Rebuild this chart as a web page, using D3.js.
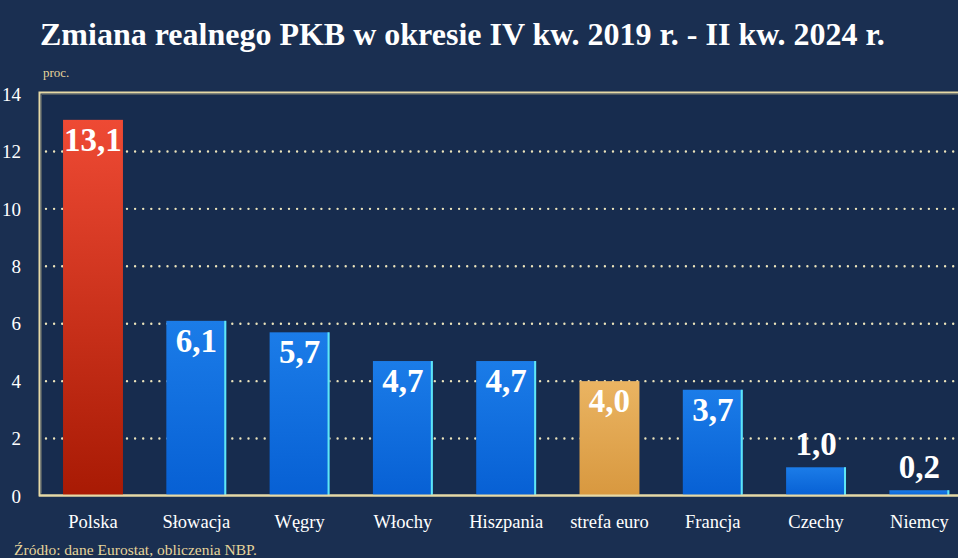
<!DOCTYPE html>
<html><head><meta charset="utf-8">
<script src="https://cdn.jsdelivr.net/npm/d3@7"></script>
<style>
html,body{margin:0;padding:0;background:#1a2f51;overflow:hidden}
svg{display:block}
</style></head>
<body>
<script>
const categories = ["Polska","Słowacja","Węgry","Włochy","Hiszpania","strefa euro","Francja","Czechy","Niemcy"];
const values = [13.1, 6.1, 5.7, 4.7, 4.7, 4.0, 3.7, 1.0, 0.2];
const valueLabels = ["13,1","6,1","5,7","4,7","4,7","4,0","3,7","1,0","0,2"];
const kinds = ["pl","blue","blue","blue","blue","euro","blue","blue","blue"];
const yTicks = [0,2,4,6,8,10,12,14];
const title = "Zmiana realnego PKB w okresie IV kw. 2019 r. - II kw. 2024 r.";
const unit = "proc.";
const source = "Źródło: dane Eurostat, obliczenia NBP.";

const W = 958, H = 558;
const serif = "'Liberation Serif', 'DejaVu Serif', serif";
const svg = d3.select("body").append("svg").attr("width", W).attr("height", H);

const defs = svg.append("defs");
function grad(id, top, bottom){
  const g = defs.append("linearGradient").attr("id", id).attr("x1",0).attr("y1",0).attr("x2",0).attr("y2",1);
  g.append("stop").attr("offset","0%").attr("stop-color", top);
  g.append("stop").attr("offset","100%").attr("stop-color", bottom);
}
grad("g-pl", "#ee4a34", "#a81a04");
grad("g-blue", "#1b7ce8", "#0760d4");
grad("g-euro", "#eab462", "#d8983f");

svg.append("rect").attr("width", W).attr("height", H).attr("fill", "#1a2f51");

const y = d3.scaleLinear().domain([0, 14]).range([496, 94]);
const x = d3.scaleBand().domain(categories).range([41.35, 971]).paddingInner(0.42).paddingOuter(0.21);

// plot area slightly darker
svg.append("rect").attr("x", 40).attr("y", 92).attr("width", W - 40).attr("height", 404).attr("fill", "#172c4e");

// gridlines (dotted)
svg.append("g").selectAll("line").data(yTicks.filter(t => t > 0 && t < 14)).join("line")
  .attr("x1", 46).attr("x2", W).attr("y1", d => y(d)).attr("y2", d => y(d))
  .attr("stroke", "#ece4bc").attr("stroke-width", 2.4)
  .attr("stroke-dasharray", "0 8.1").attr("stroke-linecap", "round");

// frame
svg.append("path").attr("d", `M${W},92.5 H39.5 V495.5 H${W}`)
  .attr("fill", "none").attr("stroke", "#e6d9a6").attr("stroke-width", 2);
svg.append("path").attr("d", `M${W},94.5 H41.5 V493.5`)
  .attr("fill", "none").attr("stroke", "#8a8a78").attr("stroke-width", 0.8).attr("opacity", 0.6);

// y axis labels
const yAxis = d3.axisLeft(y).tickValues(yTicks).tickSize(0).tickPadding(0);
const ya = svg.append("g").attr("transform", "translate(21,0)").call(yAxis);
ya.select(".domain").remove();
ya.selectAll("text").attr("fill", "#ffffff").attr("font-family", serif).attr("font-size", 19).attr("dy", "0.33em");

// bars
const bars = svg.append("g").selectAll("g").data(categories).join("g");
const vi = d => values[categories.indexOf(d)];
bars.append("rect")
  .attr("x", d => x(d)).attr("width", x.bandwidth())
  .attr("y", d => y(vi(d))).attr("height", d => y(0) - y(vi(d)))
  .attr("fill", d => `url(#g-${kinds[categories.indexOf(d)]})`);
bars.filter(d => kinds[categories.indexOf(d)] === "blue").append("rect")
  .attr("x", d => x(d) + x.bandwidth() - 2).attr("width", 2)
  .attr("y", d => y(vi(d))).attr("height", d => y(0) - y(vi(d)))
  .attr("fill", "#5fe6f4");
// bottom axis line redraw over bars
svg.append("line").attr("x1", 39).attr("x2", W).attr("y1", 495.5).attr("y2", 495.5)
  .attr("stroke", "#e6d9a6").attr("stroke-width", 2);

// value labels
bars.append("text")
  .attr("x", d => x(d) + x.bandwidth()/2)
  .attr("y", d => vi(d) > 2 ? y(vi(d)) + 31 : y(vi(d)) - 12)
  .attr("text-anchor", "middle")
  .attr("font-family", serif).attr("font-weight", "bold").attr("font-size", 33)
  .attr("fill", "#ffffff")
  .text(d => valueLabels[categories.indexOf(d)]);

// x labels
const xAxis = d3.axisBottom(x).tickSize(0).tickPadding(0);
const xa = svg.append("g").attr("transform", "translate(0,528)").call(xAxis);
xa.select(".domain").remove();
xa.selectAll("text").attr("fill", "#ffffff").attr("font-family", serif).attr("font-size", 18.5).attr("dy", 0);

// title
svg.append("text").attr("x", 40).attr("y", 45).attr("fill", "#ffffff")
  .attr("font-family", serif).attr("font-weight", "bold").attr("font-size", 32)
  .text(title);
svg.append("text").attr("x", 43).attr("y", 77).attr("fill", "#e6d49a")
  .attr("font-family", serif).attr("font-size", 13).text(unit);
svg.append("text").attr("x", 14).attr("y", 555).attr("fill", "#e6d49a")
  .attr("font-family", serif).attr("font-size", 15.5).text(source);
</script>
</body></html>
